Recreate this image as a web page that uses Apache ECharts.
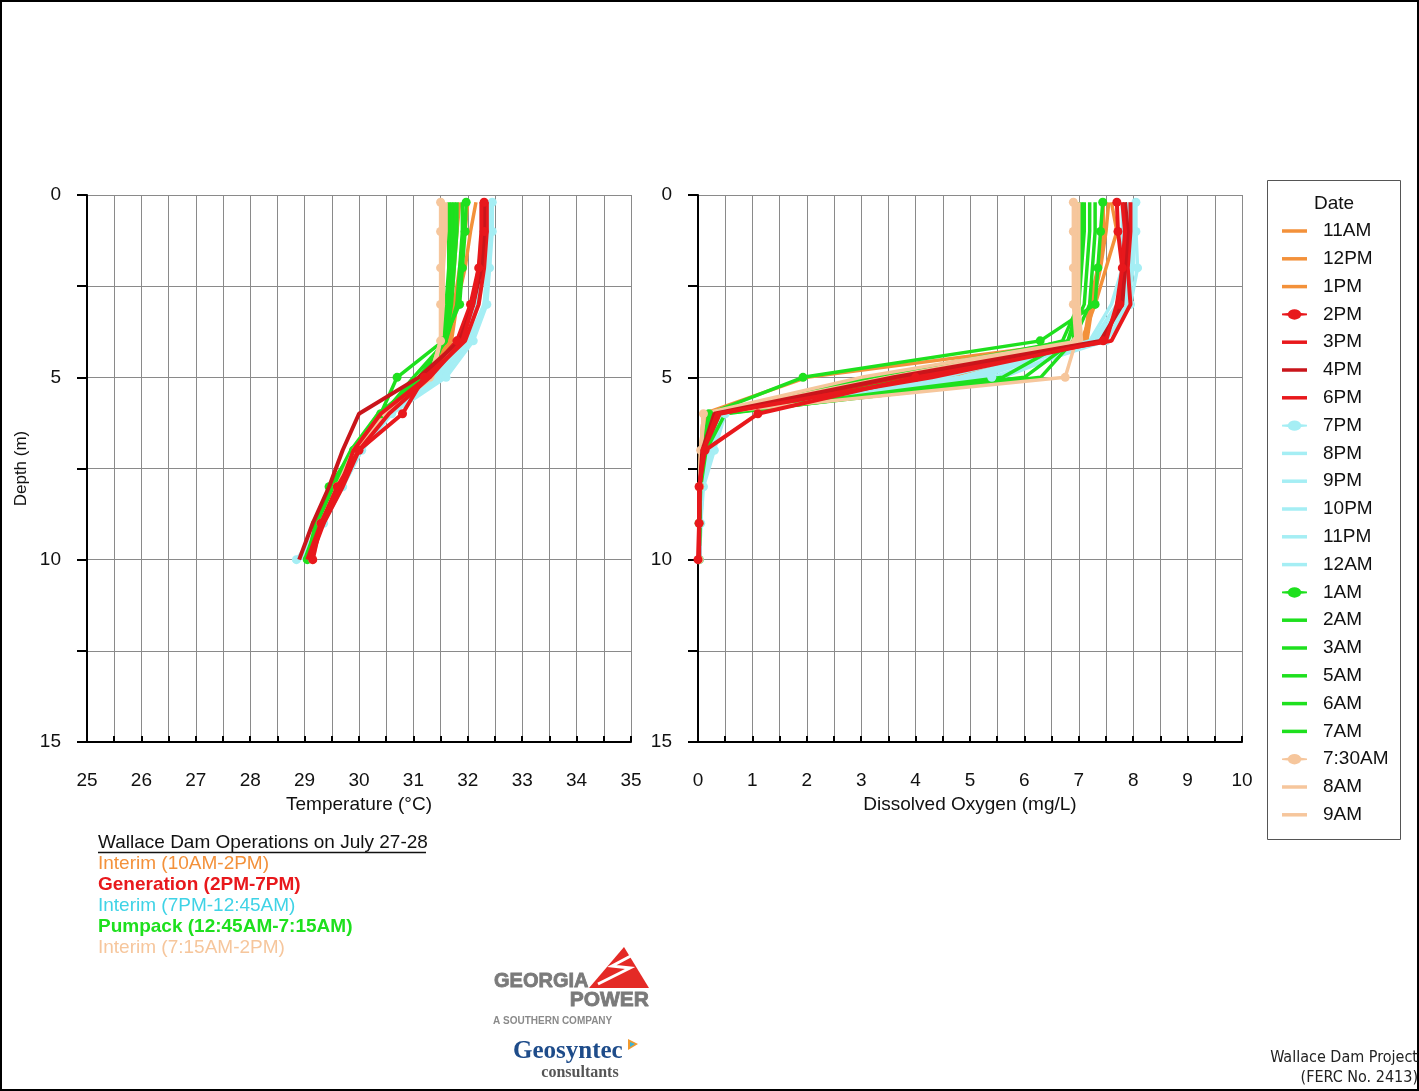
<!DOCTYPE html>
<html>
<head>
<meta charset="utf-8">
<title>Wallace Dam – Temperature and Dissolved Oxygen Profiles</title>
<script src="https://cdn.jsdelivr.net/npm/echarts@6/dist/echarts.min.js"></script>
<style>
  html, body { margin: 0; padding: 0; background: #fff; }
  #chart { width: 1419px; height: 1091px; }
</style>
</head>
<body>
<div id="chart"></div>
<script>
// Sampling depths (m) shared by every profile
const depths = [0.2, 1, 2, 3, 4, 5, 6, 7, 8, 9, 10];

// Profile times, in legend order
const times = ['11AM', '12PM', '1PM', '2PM', '3PM', '4PM', '6PM', '7PM', '8PM', '9PM', '10PM',
  '11PM', '12AM', '1AM', '2AM', '3AM', '5AM', '6AM', '7AM', '7:30AM', '8AM', '9AM'];

// Operation period of each profile time
const periods = ['interimA', 'interimA', 'interimA', 'gen', 'gen', 'gen4', 'gen', 'interimB', 'interimB',
  'interimB', 'interimB', 'interimB', 'interimB', 'pump', 'pump', 'pump', 'pump', 'pump', 'pump',
  'interimC', 'interimC', 'interimC'];

// Profiles drawn with point markers
const markedTimes = ['2PM', '7PM', '1AM', '7:30AM'];

// Water temperature (°C) per profile, at each depth
const tempProfiles = [
  [31.85, 31.80, 31.75, 31.70, 31.60, 31.35, 30.45, 29.95, 29.60, 29.30, 29.05],
  [32.00, 31.95, 31.85, 31.75, 31.65, 31.30, 30.35, 29.90, 29.55, 29.25, 29.00],
  [32.15, 32.05, 31.95, 31.80, 31.70, 31.40, 30.50, 29.95, 29.65, 29.30, 29.10],
  [32.30, 32.30, 32.20, 32.05, 31.80, 31.20, 30.80, 30.00, 29.60, 29.30, 29.15],
  [32.35, 32.35, 32.30, 32.20, 31.95, 31.25, 30.40, 29.90, 29.65, 29.30, 29.05],
  [32.30, 32.30, 32.25, 32.10, 31.85, 31.10, 30.00, 29.70, 29.45, 29.15, 28.90],
  [32.25, 32.25, 32.20, 32.10, 31.90, 31.30, 30.55, 30.00, 29.70, 29.35, 29.10],
  [32.45, 32.45, 32.40, 32.35, 32.10, 31.60, 30.60, 30.05, 29.70, 29.35, 28.85],
  [32.40, 32.40, 32.40, 32.30, 32.05, 31.50, 30.50, 30.00, 29.65, 29.30, 28.95],
  [32.40, 32.40, 32.35, 32.30, 32.00, 31.55, 30.55, 30.05, 29.70, 29.35, 29.00],
  [32.35, 32.35, 32.30, 32.20, 31.95, 31.45, 30.50, 30.00, 29.70, 29.30, 29.00],
  [32.30, 32.30, 32.25, 32.15, 31.90, 31.40, 30.45, 29.95, 29.65, 29.30, 28.95],
  [32.25, 32.25, 32.20, 32.10, 31.85, 31.35, 30.45, 29.95, 29.60, 29.25, 28.95],
  [31.97, 31.95, 31.90, 31.85, 31.55, 30.70, 30.40, 29.90, 29.45, 29.20, 29.05],
  [31.90, 31.90, 31.85, 31.80, 31.60, 31.00, 30.45, 29.90, 29.50, 29.25, 29.05],
  [31.80, 31.80, 31.75, 31.70, 31.60, 31.10, 30.40, 29.90, 29.50, 29.25, 29.00],
  [31.75, 31.75, 31.70, 31.65, 31.55, 31.20, 30.35, 29.85, 29.50, 29.25, 29.05],
  [31.70, 31.70, 31.65, 31.65, 31.55, 31.25, 30.40, 29.90, 29.55, 29.25, 29.05],
  [31.65, 31.65, 31.65, 31.60, 31.55, 31.30, 30.45, 29.90, 29.55, 29.30, 29.10],
  [31.50, 31.50, 31.50, 31.50, 31.50, 31.30, 30.50, 29.95, 29.60, 29.30, 29.15],
  [31.55, 31.55, 31.55, 31.50, 31.50, 31.30, 30.40, 29.90, 29.60, 29.30, 29.10],
  [31.60, 31.60, 31.55, 31.55, 31.50, 31.35, 30.45, 29.95, 29.60, 29.30, 29.10]
];

// Dissolved oxygen (mg/L) per profile, at each depth
const doProfiles = [
  [7.45, 7.45, 7.35, 7.20, 7.10, 4.20, 0.15, 0.05, 0.03, 0.02, 0.02],
  [7.55, 7.50, 7.40, 7.25, 7.15, 2.00, 0.10, 0.05, 0.03, 0.02, 0.02],
  [7.60, 7.70, 7.50, 7.30, 7.05, 4.60, 0.20, 0.05, 0.03, 0.02, 0.02],
  [7.70, 7.72, 7.80, 7.75, 7.45, 4.00, 1.10, 0.13, 0.02, 0.02, 0.00],
  [7.95, 7.95, 7.90, 7.95, 7.60, 3.70, 0.40, 0.10, 0.03, 0.02, 0.02],
  [7.85, 7.90, 7.85, 7.80, 7.40, 3.60, 0.30, 0.08, 0.03, 0.02, 0.02],
  [7.80, 7.85, 7.80, 7.70, 7.50, 4.30, 0.35, 0.10, 0.03, 0.02, 0.02],
  [8.05, 8.05, 8.08, 7.95, 7.50, 5.40, 0.50, 0.30, 0.10, 0.05, 0.03],
  [8.00, 8.00, 8.00, 7.90, 7.40, 5.00, 0.45, 0.25, 0.08, 0.05, 0.03],
  [7.95, 7.95, 7.95, 7.85, 7.35, 5.60, 0.40, 0.25, 0.08, 0.05, 0.03],
  [7.90, 7.90, 7.90, 7.80, 7.30, 4.80, 0.40, 0.20, 0.07, 0.04, 0.03],
  [7.85, 7.85, 7.85, 7.70, 7.25, 5.20, 0.35, 0.20, 0.06, 0.04, 0.03],
  [7.80, 7.80, 7.80, 7.60, 7.20, 4.50, 0.35, 0.20, 0.06, 0.04, 0.03],
  [7.44, 7.40, 7.35, 7.30, 6.29, 1.93, 0.20, 0.08, 0.03, 0.02, 0.02],
  [7.30, 7.30, 7.25, 7.20, 6.90, 6.00, 0.50, 0.15, 0.05, 0.03, 0.02],
  [7.20, 7.20, 7.15, 7.10, 6.80, 3.20, 0.30, 0.10, 0.04, 0.03, 0.02],
  [7.10, 7.10, 7.05, 7.00, 6.70, 4.00, 0.25, 0.10, 0.04, 0.03, 0.02],
  [7.05, 7.05, 7.00, 7.00, 6.80, 5.60, 0.35, 0.12, 0.04, 0.03, 0.02],
  [7.00, 7.00, 6.98, 6.95, 6.90, 6.30, 0.40, 0.12, 0.04, 0.03, 0.02],
  [6.90, 6.90, 6.90, 6.90, 6.95, 6.75, 0.10, 0.05, 0.03, 0.02, 0.02],
  [6.95, 6.95, 6.95, 6.95, 7.00, 3.00, 0.10, 0.05, 0.03, 0.02, 0.02],
  [7.00, 7.00, 7.00, 7.00, 7.05, 3.50, 0.12, 0.05, 0.03, 0.02, 0.02]
];

// Axis tick labels
const tempTicks = [25, 26, 27, 28, 29, 30, 31, 32, 33, 34, 35];
const doTicks = [0, 1, 2, 3, 4, 5, 6, 7, 8, 9, 10];
const depthTicks = [0, 5, 10, 15];

// Operations notes below the temperature panel
const opsTitle = 'Wallace Dam Operations on July 27-28';
const opsLines = [
  { text: 'Interim (10AM-2PM)', period: 'interimA', bold: false },
  { text: 'Generation (2PM-7PM)', period: 'gen', bold: true },
  { text: 'Interim (7PM-12:45AM)', period: 'interimBText', bold: false },
  { text: 'Pumpack (12:45AM-7:15AM)', period: 'pump', bold: true },
  { text: 'Interim (7:15AM-2PM)', period: 'interimC', bold: false }
];

// ---- styling ----
const periodColor = {
  interimA: '#F3913A',
  gen: '#E8181C',
  gen4: '#C9151B',
  interimB: '#A5EEF4',
  interimBText: '#3FD3E6',
  pump: '#1EE01E',
  interimC: '#F6C69C'
};
const FONT = '"Liberation Sans", Arial, Helvetica, sans-serif';
const FS = 19;
const GRID_TOP = 195, GRID_H = 547, GRID_W = 544;

// legend glyphs: plain stroke, or a stroke with a round marker
const ICON_LINE = 'path://M0,0L25,0L25,3.5L0,3.5Z';
const ICON_MARK = 'path://M0,6.2L6,5.6C7.5,0.5 17.5,0.5 19,5.6L25,6.2L25,7.8L19,8.4C17.5,13.5 7.5,13.5 6,8.4L0,7.8Z';

function buildSeries(profiles, axisIndex) {
  return times.map((t, i) => {
    const marked = markedTimes.indexOf(t) >= 0;
    const color = periodColor[periods[i]];
    const isGen = periods[i] === 'gen' || periods[i] === 'gen4';
    return {
      name: t,
      type: 'line',
      xAxisIndex: axisIndex,
      yAxisIndex: axisIndex,
      data: depths.map((d, k) => [profiles[i][k], d]),
      symbol: marked ? 'circle' : 'none',
      symbolSize: 9,
      showSymbol: marked,
      lineStyle: { color: color, width: isGen ? 4 : 3.5 },
      itemStyle: { color: color },
      emphasis: { disabled: true },
      animation: false,
      z: isGen ? 3 : 2
    };
  });
}

function xAxisDef(gridIndex, min, max, ticks, name) {
  return {
    gridIndex: gridIndex,
    type: 'value',
    min: min, max: max, interval: 0.5,
    position: 'bottom',
    name: name,
    nameLocation: 'middle',
    nameGap: 47,
    nameTextStyle: { fontFamily: FONT, fontSize: FS, color: '#111' },
    axisLine: { show: true, onZero: false, lineStyle: { color: '#000', width: 2 } },
    axisTick: { show: true, inside: true, length: 6, lineStyle: { color: '#000', width: 2 } },
    axisLabel: {
      margin: 29, fontFamily: FONT, fontSize: FS, color: '#111',
      formatter: v => (ticks.indexOf(v) >= 0 ? String(v) : '')
    },
    splitLine: { show: true, lineStyle: { color: '#8a8a8a', width: 1 } }
  };
}

function yAxisDef(gridIndex, name) {
  return {
    gridIndex: gridIndex,
    type: 'value',
    inverse: true,
    min: 0, max: 15, interval: 2.5,
    name: name,
    nameLocation: 'middle',
    nameGap: 57,
    nameRotate: 90,
    nameTextStyle: { fontFamily: FONT, fontSize: 17, color: '#111' },
    axisLine: { show: true, onZero: false, lineStyle: { color: '#000', width: 2 } },
    axisTick: { show: true, inside: false, length: 10, lineStyle: { color: '#000', width: 2 } },
    axisLabel: {
      margin: 26, fontFamily: FONT, fontSize: FS, color: '#111',
      formatter: v => (depthTicks.indexOf(v) >= 0 ? String(v) : '')
    },
    splitLine: { show: true, lineStyle: { color: '#8a8a8a', width: 1 } }
  };
}

// Logos and notes drawn as graphic elements
const graphics = [
  // page frame
  { type: 'rect', shape: { x: 1, y: 1, width: 1417, height: 1089 },
    style: { fill: 'none', stroke: '#000', lineWidth: 2 }, silent: true },
  // legend box and heading
  { type: 'rect', shape: { x: 1267.5, y: 180.5, width: 133, height: 659 },
    style: { fill: '#fff', stroke: '#555', lineWidth: 1 }, z: 0, silent: true },
  { type: 'text', x: 1334, y: 204, z: 10,
    style: { text: 'Date', font: FS + 'px ' + FONT, fill: '#111', textAlign: 'center', textVerticalAlign: 'middle' } },
  // operations notes
  { type: 'text', x: 98, y: 843,
    style: { text: opsTitle, font: FS + 'px ' + FONT, fill: '#111', textAlign: 'left', textVerticalAlign: 'middle' } },
  { type: 'line', shape: { x1: 98, y1: 852.5, x2: 426, y2: 852.5 }, style: { stroke: '#111', lineWidth: 1.3 } }
];
opsLines.forEach((l, i) => {
  graphics.push({
    type: 'text', x: 98, y: 864 + i * 21,
    style: {
      text: l.text,
      font: (l.bold ? 'bold ' : '') + FS + 'px ' + FONT,
      fill: periodColor[l.period], textAlign: 'left', textVerticalAlign: 'middle'
    }
  });
});
// Georgia Power mark
graphics.push(
  { type: 'polygon', shape: { points: [[624, 947], [649, 988], [589, 988]] }, style: { fill: '#E42A26' } },
  { type: 'polyline', shape: { points: [[598, 984], [630, 968], [612, 966], [640, 951]] },
    style: { stroke: '#fff', lineWidth: 3, fill: 'none' } },
  { type: 'text', x: 494, y: 981,
    style: { text: 'GEORGIA', font: 'bold 20px ' + FONT, fill: '#7a7a7a', stroke: '#7a7a7a', lineWidth: 0.8, textAlign: 'left', textVerticalAlign: 'middle' } },
  { type: 'text', x: 649, y: 1000,
    style: { text: 'POWER', font: 'bold 21px ' + FONT, fill: '#7a7a7a', stroke: '#7a7a7a', lineWidth: 0.8, textAlign: 'right', textVerticalAlign: 'middle' } },
  { type: 'text', x: 493, y: 1021,
    style: { text: 'A SOUTHERN COMPANY', font: 'bold 10px ' + FONT, fill: '#8a8a8a', textAlign: 'left', textVerticalAlign: 'middle' } },
  // Geosyntec mark
  { type: 'text', x: 513, y: 1052,
    style: { text: 'Geosyntec', font: 'bold 25px "Liberation Serif", "DejaVu Serif", serif', fill: '#1E4C8A', textAlign: 'left', textVerticalAlign: 'middle' } },
  { type: 'polygon', shape: { points: [[628, 1039], [638, 1044], [628, 1050]] }, style: { fill: '#F29A2E' } },
  { type: 'polygon', shape: { points: [[630, 1042], [635, 1044], [630, 1047]] }, style: { fill: '#3BB4D8' } },
  { type: 'text', x: 580, y: 1073,
    style: { text: 'consultants', font: 'bold 16px "Liberation Serif", "DejaVu Serif", serif', fill: '#555', textAlign: 'center', textVerticalAlign: 'middle' } },
  // project reference
  { type: 'text', x: 1418, y: 1058,
    style: { text: 'Wallace Dam Project', font: '16px "DejaVu Sans Condensed", "Liberation Sans Narrow", sans-serif', fill: '#222', textAlign: 'right', textVerticalAlign: 'middle' } },
  { type: 'text', x: 1418, y: 1078,
    style: { text: '(FERC No. 2413)', font: '16px "DejaVu Sans Condensed", "Liberation Sans Narrow", sans-serif', fill: '#222', textAlign: 'right', textVerticalAlign: 'middle' } }
);

const chart = echarts.init(document.getElementById('chart'), null, { renderer: 'canvas' });
chart.setOption({
  backgroundColor: '#fff',
  animation: false,
  grid: [
    { left: 87, top: GRID_TOP, width: GRID_W, height: GRID_H },
    { left: 698, top: GRID_TOP, width: GRID_W, height: GRID_H }
  ],
  xAxis: [
    xAxisDef(0, 25, 35, tempTicks, 'Temperature (°C)'),
    xAxisDef(1, 0, 10, doTicks, 'Dissolved Oxygen (mg/L)')
  ],
  yAxis: [
    yAxisDef(0, 'Depth (m)'),
    yAxisDef(1, '')
  ],
  legend: {
    data: times.map(t => ({ name: t, icon: markedTimes.indexOf(t) >= 0 ? ICON_MARK : ICON_LINE })),
    orient: 'vertical',
    left: 1282,
    top: 221.5,
    itemWidth: 25,
    itemHeight: 14,
    itemGap: 8.8,
    padding: 0,
    symbolKeepAspect: true,
    selectedMode: false,
    textStyle: { fontFamily: FONT, fontSize: FS, color: '#111', lineHeight: 19, padding: [0, 0, 0, 11] },
    z: 10
  },
  graphic: graphics,
  series: buildSeries(tempProfiles, 0).concat(buildSeries(doProfiles, 1))
});
</script>
</body>
</html>
